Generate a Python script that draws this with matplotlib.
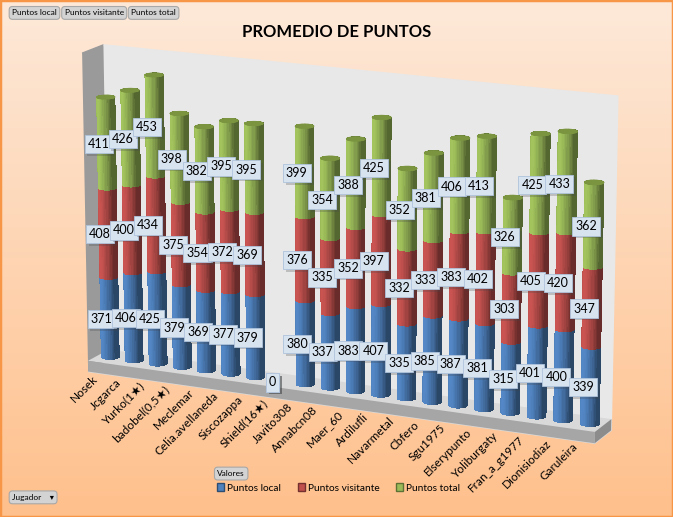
import numpy as np
import matplotlib.pyplot as plt
import matplotlib.colors as mcolors
import matplotlib.patheffects as pe
from matplotlib.patches import Patch, Rectangle
from mpl_toolkits.mplot3d.art3d import Poly3DCollection
from mpl_toolkits.mplot3d import proj3d

plt.rcParams['font.family'] = ['Lato', 'DejaVu Sans']

jugadores = ['Nosek', 'Jcgarca', 'Yurko(1★)', 'badobel(0,5★)', 'Meclemar', 'Celia.avellaneda',
             'Siscozappa', 'Shield(16★)', 'Javito308', 'Annabcn08', 'Maer_60', 'Ardilufli',
             'Navarmetal', 'Cbfero', 'Sgu1975', 'Elserypunto', 'Yoliburgaty', 'Fran_a_g1977',
             'Dionisiodiaz', 'Garuleira']
puntos_local = [371, 406, 425, 379, 369, 377, 379, 0, 380, 337, 383, 407, 335, 385, 387, 381, 315, 401, 400, 339]
puntos_visitante = [408, 400, 434, 375, 354, 372, 369, 0, 376, 335, 352, 397, 332, 333, 383, 402, 303, 405, 420, 347]
puntos_total = [411, 426, 453, 398, 382, 395, 395, 0, 399, 354, 388, 425, 352, 381, 406, 413, 326, 425, 433, 362]
series = ['Puntos local', 'Puntos visitante', 'Puntos total']
colores = ['#4F81BD', '#C0504D', '#9BBB59']

fig = plt.figure(figsize=(6.73, 5.17), dpi=100)

# fondo degradado
bg = fig.add_axes([0, 0, 1, 1], zorder=-10)
cmap = mcolors.LinearSegmentedColormap.from_list('fondo', ['#FDE9D9', '#FFC08C'])
bg.imshow(np.linspace(0, 1, 256).reshape(-1, 1), cmap=cmap, aspect='auto', extent=[0, 1, 0, 1])
bg.add_patch(Rectangle((0, 0), 1, 1, transform=bg.transAxes, fill=False, ec='#F79646', lw=2.5))
bg.axis('off')

# el area 3d es cuadrada: se hace tan ancha como la figura
ax = fig.add_axes([-0.004, -0.13, 1, 1.3], projection='3d', computed_zorder=False)
ax.set_facecolor((0, 0, 0, 0))
ax.set_proj_type('persp', focal_length=1.0)
ax.view_init(elev=15, azim=-65)
ax.set_xlim(0, 20)
ax.set_ylim(-0.8, 0.8)
ax.set_zlim(-50, 1400)
ax.set_box_aspect((20, 1.6, 12.0), zoom=0.95)

ax.xaxis.set_pane_color('#9A9A9A')
ax.yaxis.set_pane_color('#E8E8E8')
ax.zaxis.set_pane_color('#DADADA')
for a in (ax.xaxis, ax.yaxis, ax.zaxis):
    a.line.set_color((0, 0, 0, 0))
    a.pane.set_edgecolor(a.pane.get_facecolor())
    a.set_ticks([])
ax.grid(False)

# base
base_top = [[(0, -0.8, 0), (20, -0.8, 0), (20, 0.8, 0), (0, 0.8, 0)]]
base_front = [[(0, -0.8, -50), (20, -0.8, -50), (20, -0.8, 0), (0, -0.8, 0)]]
base_right = [[(20, -0.8, -50), (20, 0.8, -50), (20, 0.8, 0), (20, -0.8, 0)]]
ax.add_collection3d(Poly3DCollection(base_top, fc='#D9D9D9', ec='none', zorder=1))
ax.add_collection3d(Poly3DCollection(base_front, fc='#A6A6A6', ec='none', zorder=1))
ax.add_collection3d(Poly3DCollection(base_right, fc='#8C8C8C', ec='none', zorder=1))

theta = np.linspace(0, 2 * np.pi, 41)
r = 0.33
luz = np.array([-0.6, -0.8])
shade = np.clip(np.cos(theta) * luz[0] + np.sin(theta) * luz[1], 0, 1)
shade = 0.55 + 0.5 * shade


def cilindro(x0, z0, z1, color, zo):
    th, zz = np.meshgrid(theta, [z0, z1])
    X = x0 + r * np.cos(th)
    Y = r * np.sin(th)
    base = np.array(mcolors.to_rgb(color))
    fc = np.clip(base[None, :] * shade[:, None], 0, 1)
    fc = np.concatenate([fc, np.ones((len(theta), 1))], axis=1)
    fc = np.repeat(fc[None, :, :], 2, axis=0)
    s = ax.plot_surface(X, Y, zz, facecolors=fc, shade=False, linewidth=0,
                        antialiased=False, rstride=1, cstride=1)
    s.set_zorder(zo)


def tapa(x0, z, color, zo):
    rr, th = np.meshgrid([0, r], theta)
    X = x0 + rr * np.cos(th)
    Y = rr * np.sin(th)
    Z = np.full_like(X, z)
    s = ax.plot_surface(X, Y, Z, color=color, shade=False, linewidth=0.6,
                        edgecolor='#7A9440', antialiased=True)
    s.set_zorder(zo)


M = ax.get_proj()
etiqueta = dict(boxstyle='square,pad=0.25', fc='#D8E3F0', ec='#AFC3DC', lw=0.6)
sombra = [pe.SimplePatchShadow(offset=(2, -2), alpha=0.25), pe.Normal()]
valores = [puntos_local, puntos_visitante, puntos_total]
for i, nombre in enumerate(jugadores):
    x = i + 0.5
    abajo = 0
    zo = 10 + i * 10
    for k, serie in enumerate(valores):
        v = serie[i]
        if v > 0:
            cilindro(x, abajo, abajo + v, colores[k], zo + k)
        px, py, _ = proj3d.proj_transform(x - 0.15, -r, abajo + v / 2, M)
        t = ax.text2D(px, py, str(v), ha='center', va='center', fontsize=9,
                      zorder=500 + k, bbox=etiqueta)
        t.get_bbox_patch().set_path_effects(sombra)
        abajo += v
    if abajo > 0:
        tapa(x, abajo, '#8BAA4C', zo + 5)
    px, py, _ = proj3d.proj_transform(x - 0.2, -0.8, -70, M)
    ax.text2D(px, py, nombre, rotation=45, ha='right', va='center',
              rotation_mode='anchor', fontsize=8.5, zorder=400)

fig.text(0.5, 0.938, 'PROMEDIO DE PUNTOS', ha='center', va='center', fontsize=12, fontweight='bold')

boton = dict(boxstyle='round,pad=0.35,rounding_size=0.4', fc='#D3D3D3', ec='#A8A8A8', lw=0.8)
fig.text(0.018, 0.975, 'Puntos local', fontsize=6, va='center', bbox=boton)
fig.text(0.096, 0.975, 'Puntos visitante', fontsize=6, va='center', bbox=boton)
fig.text(0.195, 0.975, 'Puntos total', fontsize=6, va='center', bbox=boton)
fig.text(0.323, 0.084, 'Valores', fontsize=6, va='center', bbox=boton)
fig.text(0.018, 0.038, 'Jugador    ▾', fontsize=6, va='center', bbox=boton)

handles = [Patch(fc=c, ec=mcolors.to_hex(np.array(mcolors.to_rgb(c)) * 0.6)) for c in colores]
fig.legend(handles, series, loc='center', bbox_to_anchor=(0.503, 0.056), ncol=3, frameon=False,
           fontsize=7.3, handlelength=0.7, handleheight=0.7, handletextpad=0.3, columnspacing=1.6)

fig.savefig('out.png', dpi=100)
